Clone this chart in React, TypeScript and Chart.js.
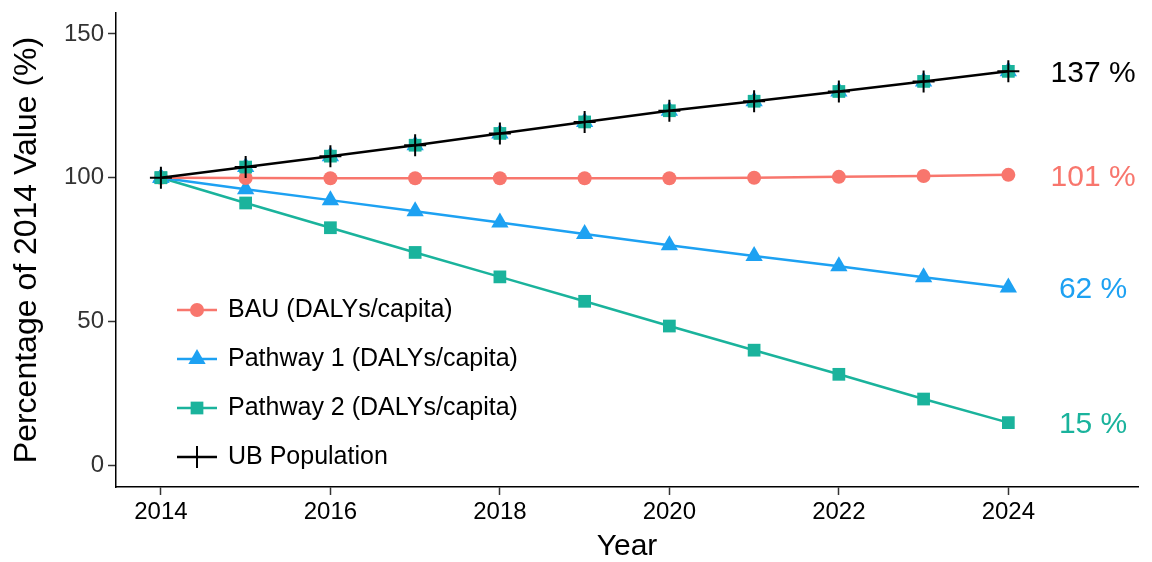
import React, { useEffect, useRef } from "react";
import { Chart, registerables } from "chart.js";

Chart.register(...registerables);

const years = [2014, 2015, 2016, 2017, 2018, 2019, 2020, 2021, 2022, 2023, 2024];
const bau = [100, 99.9, 99.8, 99.8, 99.8, 99.8, 99.8, 100.0, 100.3, 100.6, 101.0];
const pathway1 = [100, 96.0, 92.2, 88.3, 84.4, 80.4, 76.5, 72.8, 69.2, 65.4, 61.8];
const pathway2 = [100, 91.2, 82.6, 74.0, 65.5, 57.0, 48.4, 40.0, 31.6, 23.0, 14.8];
const population = [100, 103.7, 107.5, 111.3, 115.4, 119.4, 123.3, 126.6, 130.0, 133.5, 137.0];
const xTicks = [2014, 2016, 2018, 2020, 2022, 2024];
const yTicks = [0, 50, 100, 150];

const RED = "#F8766D";
const BLUE = "#1DA1F2";
const TEAL = "#1AB39C";
const BLACK = "#000000";
const FONT = "'Liberation Sans', Arial, Helvetica, sans-serif";

const toPts = (arr: number[]) => years.map((y, i) => ({ x: y, y: arr[i] }));

function drawMarker(ctx: CanvasRenderingContext2D, style: string, x: number, y: number, r: number, color: string) {
  ctx.save();
  ctx.fillStyle = color;
  ctx.strokeStyle = color;
  ctx.beginPath();
  if (style === "circle") {
    ctx.arc(x, y, r, 0, Math.PI * 2);
    ctx.fill();
  } else if (style === "triangle") {
    let rad = 0;
    ctx.moveTo(x + Math.sin(rad) * r, y - Math.cos(rad) * r);
    rad += (2 * Math.PI) / 3;
    ctx.lineTo(x + Math.sin(rad) * r, y - Math.cos(rad) * r);
    rad += (2 * Math.PI) / 3;
    ctx.lineTo(x + Math.sin(rad) * r, y - Math.cos(rad) * r);
    ctx.closePath();
    ctx.fill();
  } else if (style === "rect") {
    const s = r * Math.SQRT1_2;
    ctx.fillRect(x - s, y - s, 2 * s, 2 * s);
  } else if (style === "cross") {
    ctx.lineWidth = 2;
    ctx.moveTo(x - r, y);
    ctx.lineTo(x + r, y);
    ctx.moveTo(x, y - r);
    ctx.lineTo(x, y + r);
    ctx.stroke();
  }
  ctx.restore();
}

const overlayPlugin = {
  id: "overlay",
  afterDatasetsDraw(chart: any) {
    const ctx = chart.ctx as CanvasRenderingContext2D;
    const xs = chart.scales.x;
    const ys = chart.scales.y;
    const main = chart.data.datasets
      .filter((d: any) => d.legendIndex !== undefined)
      .sort((a: any, b: any) => a.legendIndex - b.legendIndex);
    // legend
    const rowsY = [310, 359, 408, 457];
    main.forEach((d: any, i: number) => {
      const y = rowsY[i];
      ctx.save();
      ctx.strokeStyle = d.borderColor;
      ctx.lineWidth = 2.5;
      ctx.beginPath();
      ctx.moveTo(177, y);
      ctx.lineTo(217, y);
      ctx.stroke();
      ctx.restore();
      drawMarker(ctx, d.pointStyle, 197, y, d.pointRadius, d.borderColor);
      ctx.save();
      ctx.fillStyle = "#000";
      ctx.font = `25px ${FONT}`;
      ctx.textAlign = "left";
      ctx.textBaseline = "middle";
      ctx.fillText(d.label, 228, y);
      ctx.restore();
    });
    // end labels
    main.forEach((d: any) => {
      const last = d.data[d.data.length - 1];
      const px = xs.getPixelForValue(2025);
      const py = ys.getPixelForValue(last.y) + 2.5;
      ctx.save();
      ctx.fillStyle = d.borderColor;
      ctx.font = `30px ${FONT}`;
      ctx.textAlign = "center";
      ctx.textBaseline = "middle";
      ctx.fillText(`${Math.round(last.y)} %`, px, py);
      ctx.restore();
    });
  },
};

export default function App() {
  const ref = useRef<HTMLCanvasElement | null>(null);
  useEffect(() => {
    if (!ref.current) return;
    const chart = new Chart(ref.current, {
      type: "line",
      data: {
        datasets: [
          {
            label: "UB Population",
            legendIndex: 3,
            data: toPts(population),
            borderColor: BLACK,
            backgroundColor: BLACK,
            borderWidth: 2.5,
            pointStyle: "cross",
            pointRadius: 11,
            pointBorderWidth: 2,
            pointBorderColor: BLACK,
            order: 0,
          } as any,
          {
            label: "pop-sq",
            data: toPts(population),
            showLine: false,
            borderColor: TEAL,
            backgroundColor: TEAL,
            pointStyle: "rect",
            pointRadius: 9,
            pointBorderWidth: 0,
            order: 1,
          } as any,
          {
            label: "pop-tri",
            data: toPts(population),
            showLine: false,
            borderColor: BLUE,
            backgroundColor: BLUE,
            pointStyle: "triangle",
            pointRadius: 10,
            pointBorderWidth: 0,
            order: 2,
          } as any,
          {
            label: "BAU (DALYs/capita)",
            legendIndex: 0,
            data: toPts(bau),
            borderColor: RED,
            backgroundColor: RED,
            pointBackgroundColor: RED,
            borderWidth: 2.5,
            pointStyle: "circle",
            pointRadius: 7,
            pointBorderWidth: 0,
            order: 3,
          } as any,
          {
            label: "Pathway 1 (DALYs/capita)",
            legendIndex: 1,
            data: toPts(pathway1),
            borderColor: BLUE,
            backgroundColor: BLUE,
            pointBackgroundColor: BLUE,
            borderWidth: 2.5,
            pointStyle: "triangle",
            pointRadius: 10,
            pointBorderWidth: 0,
            order: 4,
          } as any,
          {
            label: "Pathway 2 (DALYs/capita)",
            legendIndex: 2,
            data: toPts(pathway2),
            borderColor: TEAL,
            backgroundColor: TEAL,
            pointBackgroundColor: TEAL,
            borderWidth: 2.5,
            pointStyle: "rect",
            pointRadius: 9,
            pointBorderWidth: 0,
            order: 5,
          } as any,
        ],
      },
      options: {
        animation: false,
        responsive: false,
        devicePixelRatio: 1,
        layout: { padding: { top: 12, right: 14, bottom: 0, left: 0 } },
        plugins: {
          legend: { display: false },
          tooltip: { enabled: false },
        },
        elements: { line: { tension: 0 } },
        scales: {
          x: {
            type: "linear",
            min: 2013.47,
            max: 2025.53,
            afterBuildTicks: (s: any) => {
              s.ticks = xTicks.map((v) => ({ value: v }));
            },
            afterFit: (s: any) => {
              s.height = 75;
              s.paddingLeft = 0;
              s.paddingRight = 0;
            },
            grid: {
              drawOnChartArea: false,
              drawTicks: true,
              tickLength: 8,
              tickWidth: 1.5,
              tickColor: "#333",
            },
            border: { display: true, color: "#000", width: 1.5 },
            ticks: {
              color: "#000",
              font: { family: FONT, size: 24 },
              padding: 3,
              callback: (v: any) => String(v),
            },
            title: {
              display: true,
              text: "Year",
              color: "#000",
              font: { family: FONT, size: 30, lineHeight: 1 },
              padding: { top: 0, bottom: 0 },
            },
          },
          y: {
            type: "linear",
            min: -7.6,
            max: 157.3,
            afterBuildTicks: (s: any) => {
              s.ticks = yTicks.map((v) => ({ value: v }));
            },
            afterFit: (s: any) => {
              s.width = 116;
              s.paddingTop = 0;
              s.paddingBottom = 0;
            },
            grid: {
              drawOnChartArea: false,
              drawTicks: true,
              tickLength: 8,
              tickWidth: 1.5,
              tickColor: "#333",
            },
            border: { display: true, color: "#000", width: 1.5 },
            ticks: {
              color: "#333",
              font: { family: FONT, size: 24 },
              padding: 4,
              callback: (v: any) => String(v),
            },
            title: {
              display: true,
              text: "Percentage of 2014 Value (%)",
              color: "#000",
              font: { family: FONT, size: 32, lineHeight: 1 },
              padding: { top: 11, bottom: 0 },
            },
          },
        },
      } as any,
      plugins: [overlayPlugin],
    });
    return () => chart.destroy();
  }, []);
  return (
    <div style={{ position: "absolute", left: 0, top: 0, width: 1152, height: 562, background: "#fff" }}>
      <canvas ref={ref} width={1152} height={562} style={{ width: 1152, height: 562 }} />
    </div>
  );
}
